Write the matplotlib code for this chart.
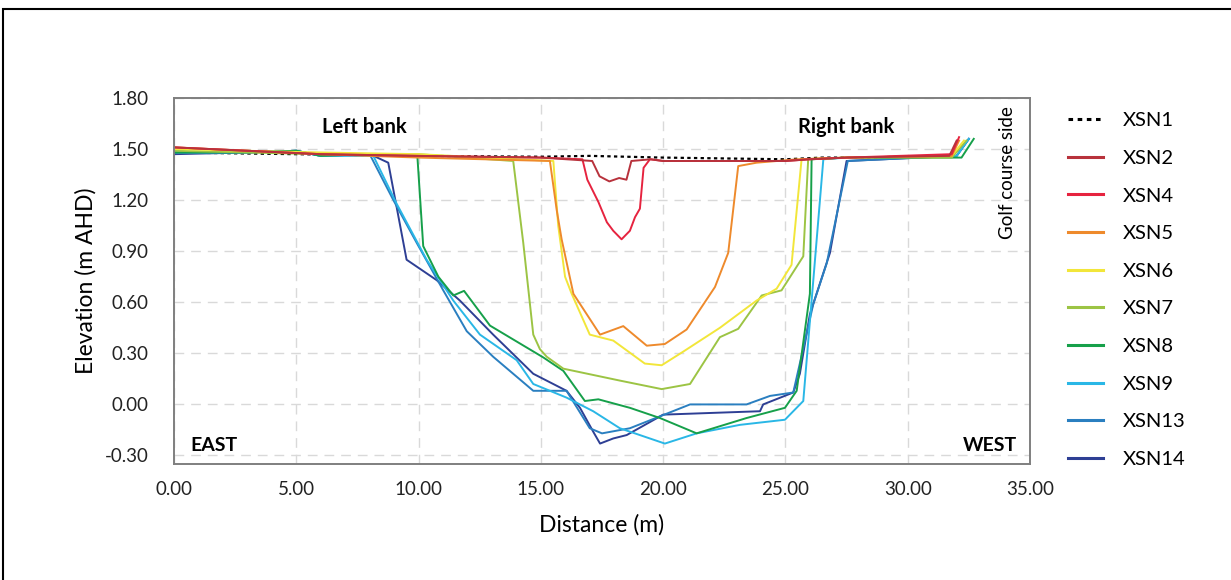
"""Cross-section profiles of the creek channel (XSN1 - XSN14)."""

import matplotlib
matplotlib.use("Agg")
import matplotlib.pyplot as plt
from matplotlib.patches import Rectangle

plt.rcParams["font.family"] = ["Lato", "DejaVu Sans"]

SECTIONS = ["XSN1", "XSN2", "XSN4", "XSN5", "XSN6", "XSN7", "XSN8", "XSN9", "XSN13", "XSN14"]

XSN1_X = [0, 5, 10, 15, 17, 20, 25, 26.5, 28, 31.8]
XSN1_Y = [1.48, 1.47, 1.46, 1.455, 1.46, 1.45, 1.44, 1.45, 1.45, 1.46]

XSN2_X = [0, 3, 6, 10, 15, 17.1, 17.4, 17.8, 18.2, 18.5, 18.7, 19.5, 20, 25, 26, 27.5, 31.7, 32.0]
XSN2_Y = [1.51, 1.49, 1.47, 1.46, 1.45, 1.43, 1.34, 1.31, 1.33, 1.32, 1.43, 1.44, 1.43, 1.43, 1.44, 1.45, 1.46, 1.55]

XSN4_X = [0, 3, 6, 10, 15, 16.7, 16.9, 17.35, 17.7, 17.96, 18.3, 18.64, 18.85, 19.05, 19.2, 19.46, 20,
          25, 26, 27.5, 31.8, 32.1]
XSN4_Y = [1.51, 1.49, 1.47, 1.46, 1.45, 1.44, 1.32, 1.19, 1.07, 1.02, 0.97, 1.02, 1.10, 1.15, 1.39, 1.44, 1.43,
          1.43, 1.44, 1.45, 1.47, 1.57]

XSN5_X = [0, 3, 6, 10, 15.37, 15.65, 15.85, 16.33, 17.42, 18.37, 19.33, 20.07, 20.96, 22.12, 22.66, 23.07,
          23.82, 25.5, 27.5, 31.8, 32.1]
XSN5_Y = [1.51, 1.49, 1.47, 1.45, 1.43, 1.14, 0.97, 0.65, 0.41, 0.46, 0.345, 0.355, 0.44, 0.69, 0.89, 1.40,
          1.42, 1.44, 1.45, 1.46, 1.55]

XSN6_X = [0, 3, 6, 10, 15.51, 15.71, 15.99, 16.26, 17.0, 17.96, 19.25, 19.94, 20.82, 22.32, 23.82, 24.64,
          25.25, 25.66, 27.5, 31.8, 32.3]
XSN6_Y = [1.50, 1.49, 1.48, 1.47, 1.43, 1.05, 0.75, 0.65, 0.41, 0.375, 0.24, 0.23, 0.31, 0.45, 0.61, 0.68,
          0.82, 1.44, 1.45, 1.46, 1.55]

XSN7_X = [0, 3, 6, 10, 13.87, 14.28, 14.69, 14.96, 15.24, 15.92, 18.23, 19.94, 21.1, 22.32, 23.07, 24.03,
          24.84, 25.73, 25.93, 27.5, 31.8, 32.4]
XSN7_Y = [1.49, 1.48, 1.47, 1.47, 1.43, 0.95, 0.41, 0.325, 0.28, 0.21, 0.14, 0.09, 0.12, 0.395, 0.444, 0.64,
          0.67, 0.87, 1.44, 1.45, 1.45, 1.55]

XSN8_X = [0, 3, 5, 6, 8, 9.95, 10.19, 10.81, 11.42, 11.86, 12.92, 15.1, 15.92, 16.8, 17.35, 18.64, 19.87,
          21.37, 23.41, 24.98, 25.46, 26.0, 26.07, 27.5, 32.2, 32.7]
XSN8_Y = [1.48, 1.48, 1.49, 1.46, 1.47, 1.46, 0.93, 0.75, 0.64, 0.667, 0.463, 0.276, 0.197, 0.02, 0.03, -0.02,
          -0.08, -0.17, -0.08, -0.02, 0.08, 0.65, 1.44, 1.45, 1.45, 1.56]

XSN9_X = [0, 3, 5, 6, 8.15, 9.1, 10.33, 11.42, 12.51, 14.01, 14.69, 16.05, 17.14, 18.23, 20.07, 21.37,
          23.14, 24.98, 25.73, 26.55, 27.5, 32.0, 32.5]
XSN9_Y = [1.48, 1.48, 1.49, 1.46, 1.46, 1.18, 0.85, 0.61, 0.41, 0.26, 0.12, 0.04, -0.04, -0.14, -0.23, -0.17,
          -0.12, -0.09, 0.02, 1.44, 1.45, 1.46, 1.56]

XSN13_X = [0, 3, 5, 6, 8.0, 8.97, 9.92, 11.01, 11.97, 13.05, 14.69, 16.05, 17.0, 17.5, 18.64, 21.1, 23.41,
           24.37, 25.32, 26.14, 26.69, 27.55, 32.0, 32.5]
XSN13_Y = [1.48, 1.48, 1.49, 1.46, 1.47, 1.20, 0.95, 0.67, 0.43, 0.28, 0.08, 0.08, -0.14, -0.17, -0.14, 0.0,
           0.0, 0.05, 0.07, 0.59, 0.83, 1.43, 1.46, 1.56]

XSN14_X = [0, 3, 5, 6, 8.01, 8.76, 9.51, 10.74, 11.69, 13.05, 14.69, 16.05, 16.6, 17.14, 17.42, 17.96, 18.51,
           20.0, 23.96, 24.09, 25.32, 25.59, 26.0, 26.82, 27.5, 32.0, 32.5]
XSN14_Y = [1.47, 1.48, 1.49, 1.46, 1.47, 1.42, 0.85, 0.73, 0.61, 0.41, 0.18, 0.08, -0.02, -0.16, -0.23, -0.20,
           -0.18, -0.06, -0.04, 0.0, 0.07, 0.18, 0.53, 0.89, 1.43, 1.46, 1.56]

PROFILES = {
    "XSN1": (XSN1_X, XSN1_Y),
    "XSN2": (XSN2_X, XSN2_Y),
    "XSN4": (XSN4_X, XSN4_Y),
    "XSN5": (XSN5_X, XSN5_Y),
    "XSN6": (XSN6_X, XSN6_Y),
    "XSN7": (XSN7_X, XSN7_Y),
    "XSN8": (XSN8_X, XSN8_Y),
    "XSN9": (XSN9_X, XSN9_Y),
    "XSN13": (XSN13_X, XSN13_Y),
    "XSN14": (XSN14_X, XSN14_Y),
}

COLORS = {
    "XSN1": "black",
    "XSN2": "#B8323C",
    "XSN4": "#E6233F",
    "XSN5": "#EE8A2C",
    "XSN6": "#F2E63A",
    "XSN7": "#9CC444",
    "XSN8": "#16A04A",
    "XSN9": "#2AB7E6",
    "XSN13": "#2A7FC0",
    "XSN14": "#2E3F94",
}

X_TICKS = [0, 5, 10, 15, 20, 25, 30, 35]
Y_TICKS = [-0.30, 0.00, 0.30, 0.60, 0.90, 1.20, 1.50, 1.80]


def main() -> None:
    fig = plt.figure(figsize=(12.31, 5.80), dpi=100)
    ax = fig.add_axes([174 / 1231, 116 / 580, 856 / 1231, 366 / 580])

    # the flat survey line goes underneath; other sections drawn upstream last
    for name in reversed(SECTIONS):
        xs, ys = PROFILES[name]
        if name == "XSN1":
            ax.plot(xs, ys, color=COLORS[name], lw=1.6, linestyle=(0, (1.5, 1.5)), label=name, zorder=1.5)
        else:
            ax.plot(xs, ys, color=COLORS[name], lw=1.4, label=name)

    ax.set_xlim(0, 35)
    ax.set_ylim(-0.35, 1.80)
    ax.set_xticks(X_TICKS)
    ax.set_yticks(Y_TICKS)
    ax.set_xticklabels([f"{v:.2f}" for v in X_TICKS])
    ax.set_yticklabels([f"{v:.2f}" for v in Y_TICKS])
    ax.tick_params(axis="x", length=0, labelsize=13.5, colors="#222222", pad=12)
    ax.tick_params(axis="y", length=0, labelsize=13.5, colors="#222222", pad=18)
    ax.grid(True, color="#D9D9D9", linestyle=(0, (7, 5)), lw=1.0)
    ax.set_axisbelow(True)
    for spine in ax.spines.values():
        spine.set_color("#7F7F7F")
        spine.set_linewidth(1.4)

    ax.set_xlabel("Distance (m)", fontsize=16.5, labelpad=12)
    ax.set_ylabel("Elevation (m AHD)", fontsize=16.5, labelpad=6)

    ax.text(7.8, 1.63, "Left bank", fontsize=14.5, fontweight="bold", ha="center", va="center")
    ax.text(27.5, 1.63, "Right bank", fontsize=14.5, fontweight="bold", ha="center", va="center")
    ax.text(0.65, -0.24, "EAST", fontsize=14, fontweight="bold", ha="left", va="center")
    ax.text(34.45, -0.24, "WEST", fontsize=14, fontweight="bold", ha="right", va="center")
    ax.text(34.1, 1.36, "Golf course side", fontsize=13.5, rotation=90, ha="center", va="center")

    handles, labels = ax.get_legend_handles_labels()
    order = [labels.index(name) for name in SECTIONS]
    leg = fig.legend([handles[i] for i in order], [labels[i] for i in order],
                     loc="upper left", bbox_to_anchor=(1050 / 1231, 1 - 94 / 580),
                     frameon=False, fontsize=14.5, handlelength=1.75, handletextpad=0.95,
                     labelspacing=1.02)
    for line in leg.get_lines():
        line.set_linewidth(2.2)

    # outer border round the figure
    fig.add_artist(Rectangle((3 / 1231, -0.1), 1.2, 1 - 9 / 580 + 0.1, transform=fig.transFigure,
                             fill=False, edgecolor="black", lw=1.5))

    fig.savefig("out.png", dpi=100)
    plt.close(fig)


if __name__ == "__main__":
    main()
